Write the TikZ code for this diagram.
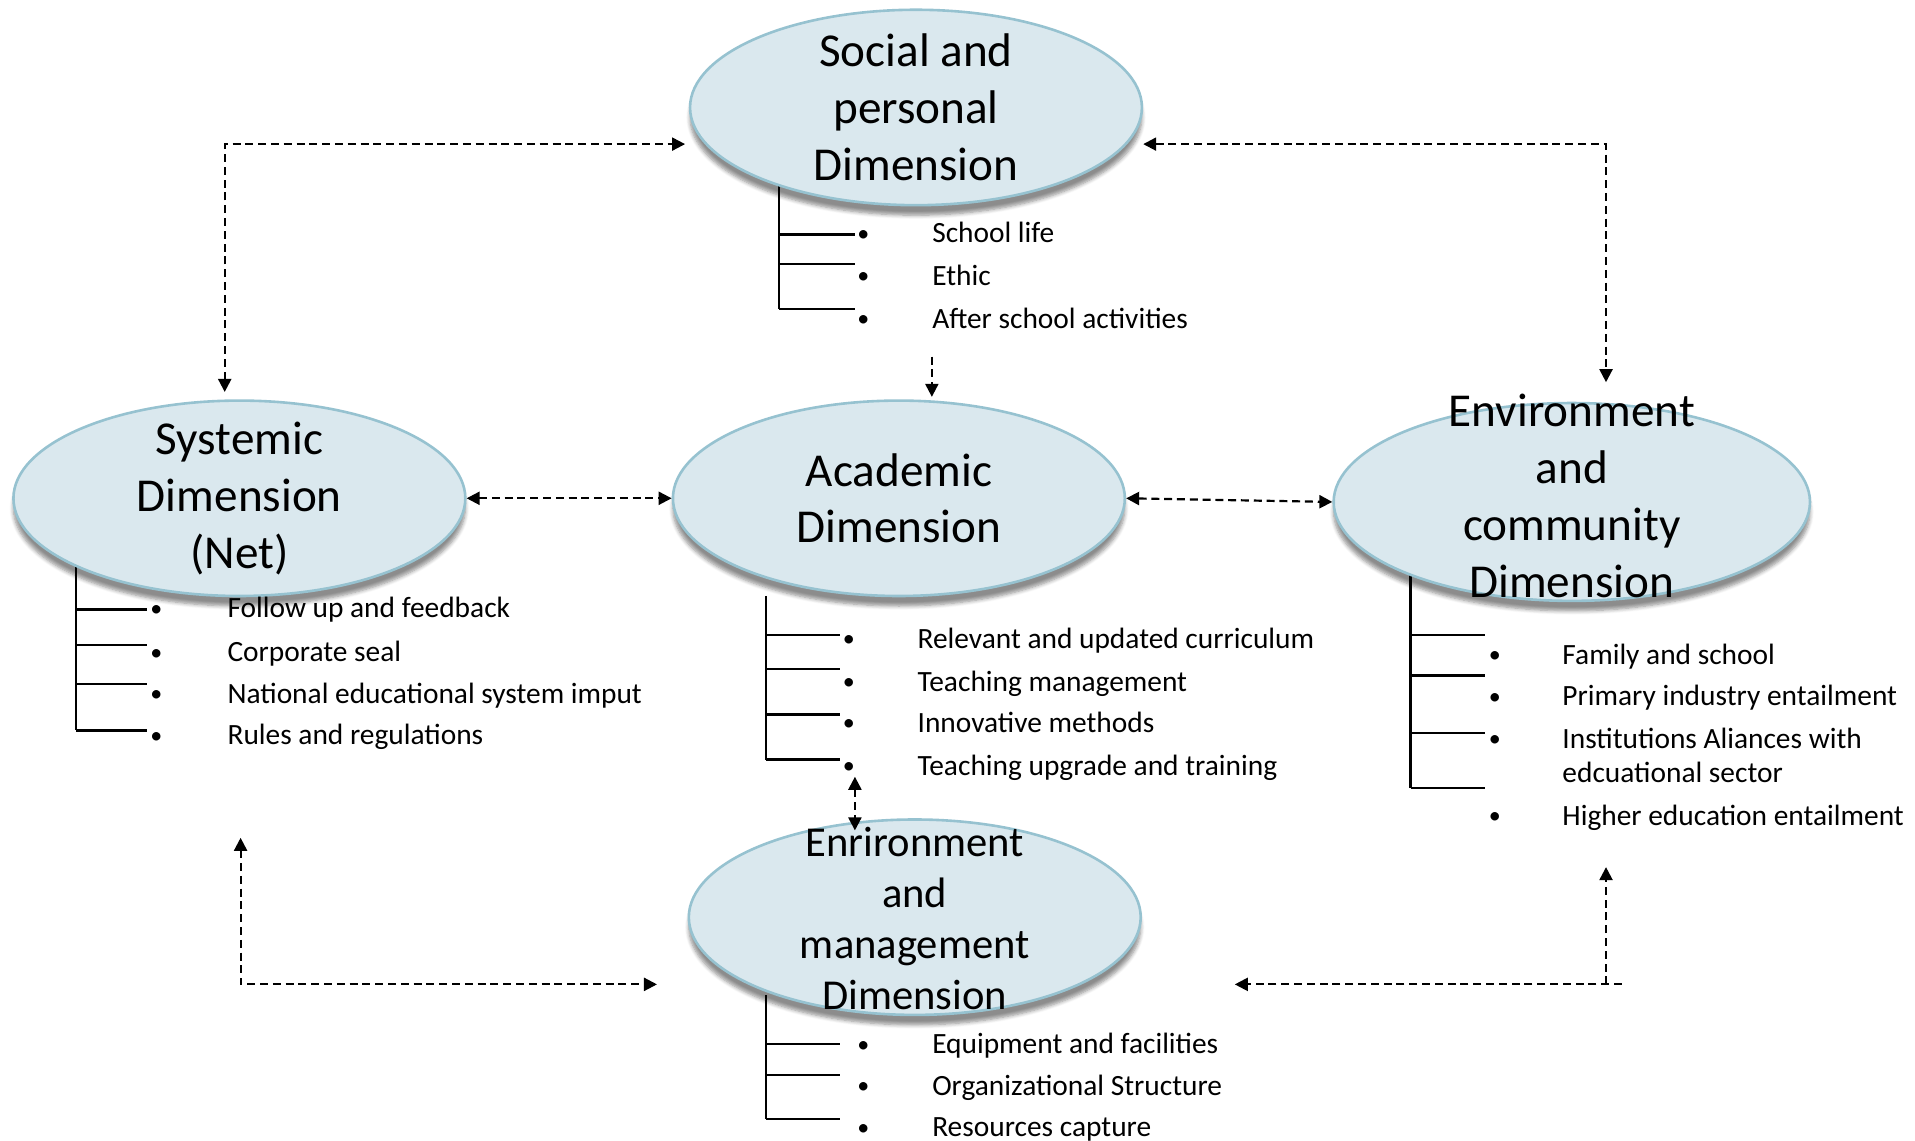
\documentclass[tikz,border=0pt]{standalone}
\usepackage{fontspec}
\setmainfont{Carlito}
\usetikzlibrary{shapes.geometric,arrows.meta,shadows.blur}
\definecolor{ellfill}{RGB}{218,232,238}
\definecolor{ellline}{RGB}{150,194,208}
\begin{document}
\begin{tikzpicture}[x=0.61065pt,y=-0.61065pt,
  dim/.style={ellipse, draw=ellline, line width=1.3pt, fill=ellfill,
    minimum width=370*0.61065pt, minimum height=160*0.61065pt, inner sep=0pt,
    blur shadow={shadow xshift=0pt, shadow yshift=-5pt, shadow blur steps=6, shadow opacity=45}},
  dimtext/.style={align=center, inner sep=0pt, font=\fontsize{23.6}{28.4}\selectfont},
  itm/.style={anchor=mid west, inner sep=0pt, yshift=-5*0.61065pt, font=\fontsize{14.7}{17}\selectfont},
  bul/.style={anchor=center, inner sep=0pt, yshift=-3*0.61065pt, font=\fontsize{12}{14}\selectfont},
  tree/.style={line width=1.2pt},
  conn/.style={line width=1.1pt, dash pattern=on 4pt off 2.4pt},
  >={Triangle[length=6.5pt,width=6.5pt]}
]
\useasboundingbox (0,0) rectangle (1568,934);

% ---------- tree lines (under the ellipses)
\draw[tree] (638,150) -- (638,253);
\foreach \y in {192,216,253} \draw[tree] (638,\y) -- (700,\y);
\draw[tree] (62,455) -- (62,598);
\foreach \y in {499,528,560,598} \draw[tree] (62,\y) -- (120,\y);
\draw[tree] (627,488) -- (627,622);
\foreach \y in {520,548,585,622} \draw[tree] (627,\y) -- (688,\y);
\draw[tree] (1155,470) -- (1155,645);
\foreach \y in {520,553,600,645} \draw[tree] (1155,\y) -- (1216,\y);
\draw[tree] (627,815) -- (627,916);
\foreach \y in {855,880,916} \draw[tree] (627,\y) -- (688,\y);

% ---------- ellipses
\node[dim] (soc) at (750,88) {};
\node[dim] (sys) at (196,408) {};
\node[dim] (aca) at (736,408) {};
\node[dim, minimum width=390*0.61065pt, minimum height=162*0.61065pt] (env) at (1287,411) {};
\node[dim] (mgt) at (749,751) {};

\node[dimtext] (soct) at (soc.center) {Social and\\personal\\Dimension};
\node[dimtext] (syst) at (sys.center) {Systemic\\Dimension\\(Net)};
\node[dimtext] (acat) at (aca.center) {Academic\\Dimension};
\node[dimtext] (envt) at (1287,406) {Environment\\and\\community\\Dimension};
\node[dimtext, font=\fontsize{21.3}{25.6}\selectfont] (mgtt) at (749,752) {Enrironment\\and\\management\\Dimension};

% ---------- items
\foreach \y/\t [count=\i] in {190/School life, 225/Ethic, 260/After school activities}{
  \node[bul] (sb\i) at (707,\y) {\textbullet};
  \node[itm] (si\i) at (763,\y) {\t};}
\foreach \y/\t [count=\i] in {497/Follow up and feedback, 533/Corporate seal, 567/National educational system imput, 601/Rules and regulations}{
  \node[bul] (yb\i) at (128,\y) {\textbullet};
  \node[itm] (yi\i) at (186,\y) {\t};}
\foreach \y/\t [count=\i] in {522/Relevant and updated curriculum, 557/Teaching management, 591/Innovative methods, 626/Teaching upgrade and training}{
  \node[bul] (ab\i) at (695,\y) {\textbullet};
  \node[itm] (ai\i) at (751,\y) {\t};}
\foreach \y [count=\i] in {535,569,604,667}
  \node[bul] (eb\i) at (1224,\y) {\textbullet};
\node[itm] (ei1) at (1279,535) {Family and school};
\node[itm] (ei2) at (1279,569) {Primary industry entailment};
\node[itm] (ei3) at (1279,604) {Institutions Aliances with};
\node[itm] (ei3b) at (1279,632) {edcuational sector};
\node[itm] (ei4) at (1279,667) {Higher education entailment};
\foreach \y/\t [count=\i] in {854/Equipment and facilities, 888/Organizational Structure, 922/Resources capture}{
  \node[bul] (mb\i) at (707,\y) {\textbullet};
  \node[itm] (mi\i) at (763,\y) {\t};}

% ---------- connectors
\coordinate (k1) at (184,118);
\draw[conn,<->] ([yshift=6*0.61065pt]sys.north -| k1) -- (k1) -- ([xshift=-3*0.61065pt]k1 -| soc.west);
\coordinate (k2) at (1315,118);
\draw[conn,<->] (soc.east |- k2) -- (k2) -- ([yshift=16*0.61065pt]k2 |- env.north);
\coordinate (k3) at (763,292);
\draw[conn,->] (k3) -- ([yshift=2*0.61065pt]k3 |- aca.north);
\draw[conn,<->] (sys.east) -- (aca.west);
\draw[conn,<->] (aca.east) -- (env.west);
\coordinate (k4) at (700,636);
\draw[conn,<->] (k4) -- ([yshift=-10*0.61065pt]k4 |- mgt.north);
\coordinate (f1) at (197,686);
\coordinate (k5) at (197,806);
\draw[conn,<->] (f1) -- (k5) -- ([xshift=-25*0.61065pt]k5 -| mgt.west);
\coordinate (f2) at (1328,806);
\coordinate (k6) at (1315,806);
\coordinate (f3) at (1315,710);
\draw[conn,->] (f2) -- ([xshift=76*0.61065pt]k6 -| mgt.east);
\draw[conn,->] (k6) -- (f3);
\end{tikzpicture}
\end{document}
